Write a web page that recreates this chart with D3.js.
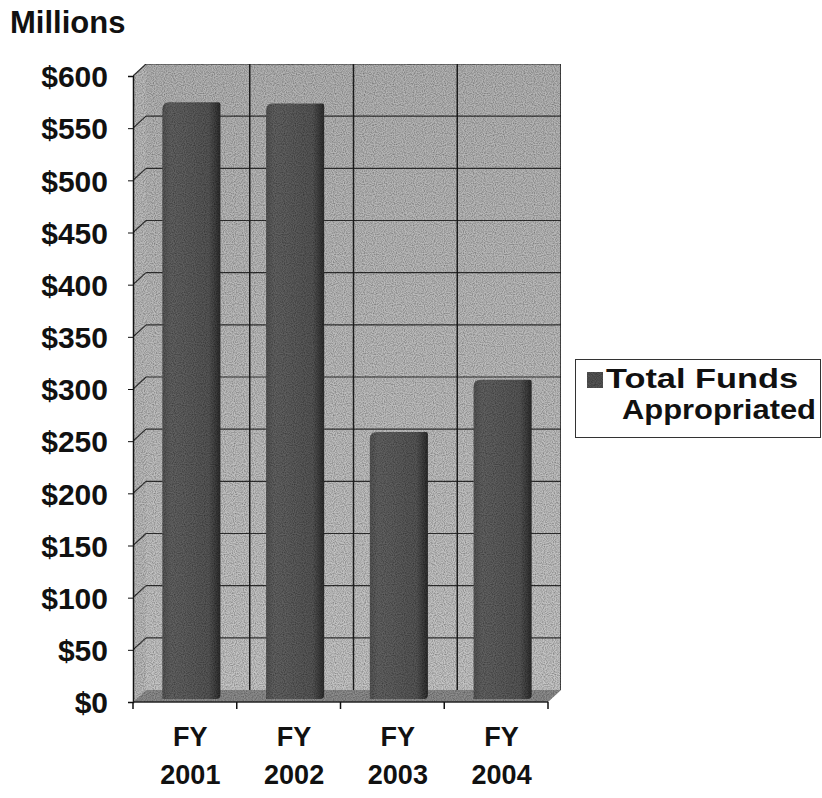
<!DOCTYPE html>
<html>
<head>
<meta charset="utf-8">
<script src="https://cdn.jsdelivr.net/npm/d3@7"></script>
<style>
  body { margin: 0; background: #fff; }
  text { font-family: "Liberation Sans", Arial, sans-serif; font-weight: bold; fill: #111; }
</style>
</head>
<body>
<svg id="viz"></svg>
<script>
// data
const categories = ['FY 2001', 'FY 2002', 'FY 2003', 'FY 2004'];
const funds = [569, 568, 253, 303];
const yTicks = [0, 50, 100, 150, 200, 250, 300, 350, 400, 450, 500, 550, 600];
const seriesName = ['Total Funds', 'Appropriated'];

var width = 822, height = 798;
var svg = d3.select('#viz').attr('width', width).attr('height', height);

// 3d depth offset
var dx = 13, dy = 12;

var yFront = d3.scaleLinear().domain([0, 600]).range([702, 76]);
var yBack = v => yFront(v) - dy;
var yMid = v => yFront(v) - dy / 2;

var xFront = d3.scaleBand().domain(categories).range([133, 548]);
var xMid = c => xFront(c) + dx / 2;
var barW = xFront.bandwidth() * 0.56;

var defs = svg.append('defs');

// grain filter to mimic the scanned halftone
var f = defs.append('filter').attr('id', 'grain').attr('x', 0).attr('y', 0).attr('width', 1).attr('height', 1);
f.append('feTurbulence').attr('type', 'fractalNoise').attr('baseFrequency', 0.9).attr('numOctaves', 1).attr('seed', 3).attr('result', 'noise');
f.append('feColorMatrix').attr('in', 'noise').attr('type', 'matrix')
  .attr('values', '0 0 0 0 0  0 0 0 0 0  0 0 0 0 0  0 0 0 -1.2 0.8').attr('result', 'dots');
f.append('feComposite').attr('in', 'dots').attr('in2', 'SourceGraphic').attr('operator', 'in').attr('result', 'dots2');
f.append('feMerge').call(m => {
  m.append('feMergeNode').attr('in', 'SourceGraphic');
  m.append('feMergeNode').attr('in', 'dots2');
});

var wallGrad = defs.append('linearGradient').attr('id', 'wallGrad').attr('x1', 0).attr('y1', 0).attr('x2', 0).attr('y2', 1);
wallGrad.append('stop').attr('offset', '0%').attr('stop-color', '#b4b4b4');
wallGrad.append('stop').attr('offset', '100%').attr('stop-color', '#c6c6c6');

var barGrad = defs.append('linearGradient').attr('id', 'barGrad').attr('x1', 0).attr('y1', 0).attr('x2', 1).attr('y2', 0);
barGrad.append('stop').attr('offset', '0%').attr('stop-color', '#555');
barGrad.append('stop').attr('offset', '15%').attr('stop-color', '#626262');
barGrad.append('stop').attr('offset', '80%').attr('stop-color', '#565656');
barGrad.append('stop').attr('offset', '100%').attr('stop-color', '#2e2e2e');

var chart = svg.append('g');
var plot = chart.append('g').attr('filter', 'url(#grain)');

// back wall
plot.append('rect')
  .attr('x', 133 + dx).attr('y', yBack(600))
  .attr('width', 548 - 133).attr('height', yBack(0) - yBack(600))
  .attr('fill', 'url(#wallGrad)');

// left wall
plot.append('path')
  .attr('d', d3.line()([[133, yFront(0)], [133, yFront(600)], [133 + dx, yBack(600)], [133 + dx, yBack(0)]]) + 'Z')
  .attr('fill', '#bcbcbc');

// floor
plot.append('path')
  .attr('d', d3.line()([[133, yFront(0)], [548, yFront(0)], [548 + dx, yBack(0)], [133 + dx, yBack(0)]]) + 'Z')
  .attr('fill', '#8c8c8c');

// grid lines on the back wall
plot.selectAll('.hgrid').data(yTicks.slice(1)).enter().append('line')
  .attr('x1', 133 + dx).attr('x2', 548 + dx)
  .attr('y1', d => yBack(d)).attr('y2', d => yBack(d))
  .attr('stroke', '#333').attr('stroke-width', 1.2);

plot.selectAll('.lgrid').data(yTicks.slice(1)).enter().append('line')
  .attr('x1', 133).attr('x2', 133 + dx)
  .attr('y1', d => yFront(d)).attr('y2', d => yBack(d))
  .attr('stroke', '#333').attr('stroke-width', 1.2);

plot.selectAll('.vgrid').data(categories.slice(1)).enter().append('line')
  .attr('x1', d => xFront(d) + dx).attr('x2', d => xFront(d) + dx)
  .attr('y1', yBack(600)).attr('y2', yBack(0))
  .attr('stroke', '#222').attr('stroke-width', 1.5);

// bars
var bars = plot.selectAll('.bar').data(categories).enter().append('g');
bars.append('path')
  .attr('d', (d, i) => {
    var x0 = xMid(d) + (xFront.bandwidth() - barW) / 2, x1 = x0 + barW;
    var yt = yMid(funds[i]), yb = yMid(0) + 3, r = 7;
    return `M${x0},${yb} L${x0},${yt + r} Q${x0},${yt} ${x0 + r},${yt} L${x1 - 2},${yt} Q${x1},${yt} ${x1},${yt + 2} L${x1},${yb - 4} Q${x1},${yb} ${x1 - 4},${yb} Z`;
  })
  .attr('fill', 'url(#barGrad)');

// wall outline
plot.append('line').attr('x1', 548 + dx).attr('x2', 548 + dx).attr('y1', yBack(600)).attr('y2', yBack(0))
  .attr('stroke', '#222').attr('stroke-width', 1.5);

// axes
var yAxis = d3.axisLeft(yFront).tickValues(yTicks).tickFormat(d => '$' + d).tickSize(5).tickPadding(20);
var yG = chart.append('g').attr('transform', 'translate(133,0)').call(yAxis);
yG.select('.domain').attr('stroke', '#111').attr('stroke-width', 1.5);
yG.selectAll('line').attr('stroke', '#111');
yG.selectAll('text').style('font-size', '30px').attr('fill', '#111').attr('dy', '0.36em');

var xG = chart.append('g');
xG.append('line').attr('x1', 133).attr('x2', 548).attr('y1', yFront(0)).attr('y2', yFront(0)).attr('stroke', '#222').attr('stroke-width', 1.5);
var bounds = categories.map(c => xFront(c)).concat([xFront.range()[1]]);
xG.selectAll('.xt').data(bounds).enter().append('line')
  .attr('x1', d => d).attr('x2', d => d)
  .attr('y1', yFront(0)).attr('y2', yFront(0) + 7)
  .attr('stroke', '#111').attr('stroke-width', 1.5);
var xl = xG.selectAll('.xl').data(categories).enter().append('text')
  .attr('text-anchor', 'middle')
  .style('font-size', '27px');
xl.append('tspan').attr('x', d => xMid(d) + xFront.bandwidth() / 2 - 1).attr('y', 746).text(d => d.split(' ')[0]);
xl.append('tspan').attr('x', d => xMid(d) + xFront.bandwidth() / 2 - 1).attr('y', 784).text(d => d.split(' ')[1]);

// title
svg.append('text').attr('x', 10).attr('y', 33).style('font-size', '31px').text('Millions');

// legend
var lg = svg.append('g');
lg.append('rect').attr('x', 575.5).attr('y', 359.5).attr('width', 245).attr('height', 78)
  .attr('fill', '#fff').attr('stroke', '#333').attr('stroke-width', 1);
lg.append('rect').attr('x', 587).attr('y', 372).attr('width', 16).attr('height', 16)
  .attr('fill', '#555').attr('filter', 'url(#grain)');
lg.append('text').attr('x', 606).attr('y', 388).style('font-size', '27px')
  .attr('textLength', 192).attr('lengthAdjust', 'spacingAndGlyphs').text(seriesName[0]);
lg.append('text').attr('x', 622).attr('y', 419).style('font-size', '27px')
  .attr('textLength', 194).attr('lengthAdjust', 'spacingAndGlyphs').text(seriesName[1]);
</script>
</body>
</html>
